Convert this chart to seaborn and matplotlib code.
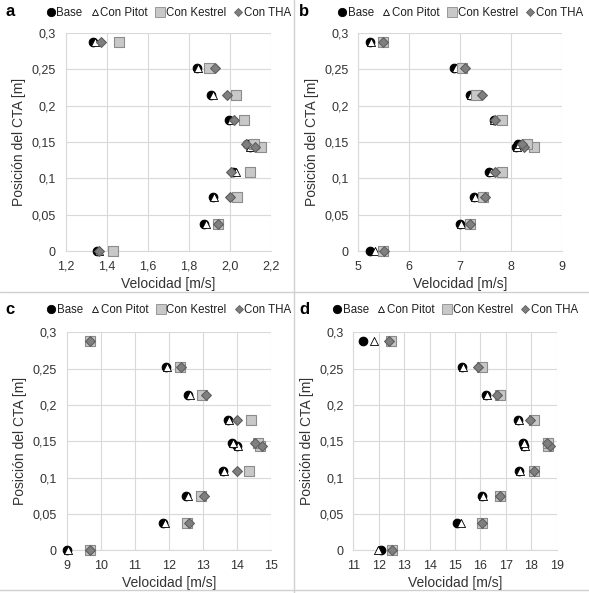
import matplotlib
matplotlib.use("Agg")
import matplotlib.pyplot as plt
from matplotlib.lines import Line2D
import seaborn as sns
import pandas as pd

sns.set_theme(style="white")
plt.rcParams['font.family'] = ['Liberation Sans', 'DejaVu Sans']

# ---------------- data ----------------
positions = [0.0, 0.037, 0.075, 0.109, 0.143, 0.147, 0.180, 0.214, 0.252, 0.288]
series_names = ["Base", "Con Pitot", "Con Kestrel", "Con THA"]

a_base    = [1.354, 1.875, 1.917, 2.018, 2.100, 2.086, 1.998, 1.910, 1.839, 1.335]
a_pitot   = [1.360, 1.883, 1.925, 2.030, 2.100, 2.095, 2.006, 1.918, 1.847, 1.343]
a_kestrel = [1.430, 1.945, 2.035, 2.100, 2.153, 2.120, 2.070, 2.030, 1.900, 1.460]
a_tha     = [1.362, 1.945, 2.000, 2.006, 2.123, 2.078, 2.020, 1.985, 1.928, 1.372]

b_base    = [5.23, 7.00, 7.27, 7.58, 8.10, 8.15, 7.66, 7.20, 6.89, 5.23]
b_pitot   = [5.33, 7.02, 7.30, 7.61, 8.13, 8.17, 7.67, 7.22, 6.92, 5.25]
b_kestrel = [5.49, 7.20, 7.46, 7.83, 8.46, 8.31, 7.82, 7.32, 7.04, 5.48]
b_tha     = [5.51, 7.20, 7.49, 7.69, 8.25, 8.21, 7.69, 7.43, 7.09, 5.48]

c_base    = [9.02, 11.84, 12.50, 13.60, 14.02, 13.85, 13.74, 12.58, 11.91, 9.70]
c_pitot   = [9.05, 11.89, 12.56, 13.64, 14.05, 13.90, 13.78, 12.63, 11.96, 9.70]
c_kestrel = [9.70, 12.55, 12.94, 14.35, 14.69, 14.64, 14.41, 12.97, 12.33, 9.70]
c_tha     = [9.70, 12.59, 13.04, 14.00, 14.75, 14.54, 14.00, 13.10, 12.35, 9.70]

d_base    = [12.08, 15.09, 16.05, 17.53, 17.72, 17.69, 17.49, 16.20, 15.29, 11.39]
d_pitot   = [11.96, 15.24, 16.09, 17.57, 17.75, 17.73, 17.53, 16.25, 15.33, 11.81]
d_kestrel = [12.51, 16.05, 16.78, 18.12, 18.67, 18.65, 18.11, 16.76, 16.07, 12.48]
d_tha     = [12.51, 16.05, 16.78, 18.12, 18.74, 18.63, 17.95, 16.65, 15.92, 12.42]

panel_letters = ["a", "b", "c", "d"]
a_xticks = [1.2, 1.4, 1.6, 1.8, 2.0, 2.2]
a_xlabels = ["1,2", "1,4", "1,6", "1,8", "2,0", "2,2"]
b_xticks = [5, 6, 7, 8, 9]
c_xticks = [9, 10, 11, 12, 13, 14, 15]
d_xticks = [11, 12, 13, 14, 15, 16, 17, 18, 19]
yticks = [0, 0.05, 0.1, 0.15, 0.2, 0.25, 0.3]
ylabels = ["0", "0,05", "0,1", "0,15", "0,2", "0,25", "0,3"]

panels = [
    (a_base, a_pitot, a_kestrel, a_tha, a_xticks, a_xlabels),
    (b_base, b_pitot, b_kestrel, b_tha, b_xticks, [str(t) for t in b_xticks]),
    (c_base, c_pitot, c_kestrel, c_tha, c_xticks, [str(t) for t in c_xticks]),
    (d_base, d_pitot, d_kestrel, d_tha, d_xticks, [str(t) for t in d_xticks]),
]

# ---------------- styles ----------------
styles = {
    "Base":        dict(marker="o", color="#000000", edgecolor="#000000", s=38, lw=0.8, lms=6.0),
    "Con Pitot":   dict(marker="^", color="#ffffff", edgecolor="#000000", s=34, lw=0.6, lms=5.0),
    "Con Kestrel": dict(marker="s", color="#c8c8c8", edgecolor="#8c8c8c", s=50, lw=0.8, lms=6.5),
    "Con THA":     dict(marker="D", color="#7f7f7f", edgecolor="#5f5f5f", s=25, lw=0.8, lms=4.5),
}
text_color = "#333333"
grid_color = "#d9d9d9"

fig = plt.figure(figsize=(5.89, 5.93), dpi=100)
W, H = 589.0, 593.0
rects = [
    (65.7, 33, 270.7, 251),
    (358.3, 33, 561.7, 251),
    (66.7, 332.3, 270.7, 550.3),
    (353.3, 332.3, 556.7, 550.3),
]
letter_pos = [(5, 12), (299, 12), (5, 309), (299, 309)]
legend_y = [13, 13, 310, 310]

for i, (rect, pdata) in enumerate(zip(rects, panels)):
    x0, y0, x1, y1 = rect
    ax = fig.add_axes([x0 / W, 1 - y1 / H, (x1 - x0) / W, (y1 - y0) / H])
    base, pitot, kestrel, tha, xt, xl = pdata
    df = pd.DataFrame({"pos": positions, "Base": base, "Con Pitot": pitot,
                       "Con Kestrel": kestrel, "Con THA": tha})
    for name in series_names:
        st = styles[name]
        sns.scatterplot(data=df, x=name, y="pos", ax=ax, marker=st["marker"],
                        color=st["color"], edgecolor=st["edgecolor"], s=st["s"],
                        linewidth=st["lw"], clip_on=False, zorder=3, legend=False)
    ax.set_xlim(xt[0], xt[-1])
    ax.set_ylim(0, 0.3)
    ax.set_xticks(xt)
    ax.set_xticklabels(xl)
    ax.set_yticks(yticks)
    ax.set_yticklabels(ylabels)
    ax.grid(True, color=grid_color, linewidth=0.8)
    ax.set_axisbelow(True)
    for side in ["top", "right"]:
        ax.spines[side].set_visible(False)
    for side in ["left", "bottom"]:
        ax.spines[side].set_color(grid_color)
        ax.spines[side].set_linewidth(0.8)
    ax.tick_params(axis="both", length=0, labelsize=9, colors=text_color, pad=7)
    ax.set_xlabel("Velocidad [m/s]", fontsize=10, color=text_color, labelpad=3)
    ax.set_ylabel("Posición del CTA [m]", fontsize=10, color=text_color, labelpad=4)

    handles = [Line2D([0], [0], linestyle="none", marker=styles[n]["marker"],
                      markerfacecolor=styles[n]["color"],
                      markeredgecolor=styles[n]["edgecolor"],
                      markersize=styles[n]["lms"],
                      markeredgewidth=0.6) for n in series_names]
    cx = (x0 + x1) / 2 / W
    fig.legend(handles, series_names, loc="center", ncol=4,
               bbox_to_anchor=(cx, 1 - legend_y[i] / H), frameon=False,
               fontsize=8.3, handletextpad=0.05, columnspacing=0.6,
               handlelength=0.9, borderpad=0, labelcolor="#202020")
    lx, ly = letter_pos[i]
    fig.text(lx / W, 1 - ly / H, panel_letters[i], fontsize=12, fontweight="bold",
             ha="left", va="center", color="#000000")

# divider lines
fig.add_artist(Line2D([294.3 / W, 294.3 / W], [0, 1], color="#d0d0d0", linewidth=1,
                      transform=fig.transFigure))
fig.add_artist(Line2D([0, 1], [1 - 291.7 / H, 1 - 291.7 / H], color="#d0d0d0",
                      linewidth=1, transform=fig.transFigure))
fig.add_artist(Line2D([0, 1], [1 - 590 / H, 1 - 590 / H], color="#d0d0d0",
                      linewidth=1, transform=fig.transFigure))

fig.savefig("out.png", dpi=100)
